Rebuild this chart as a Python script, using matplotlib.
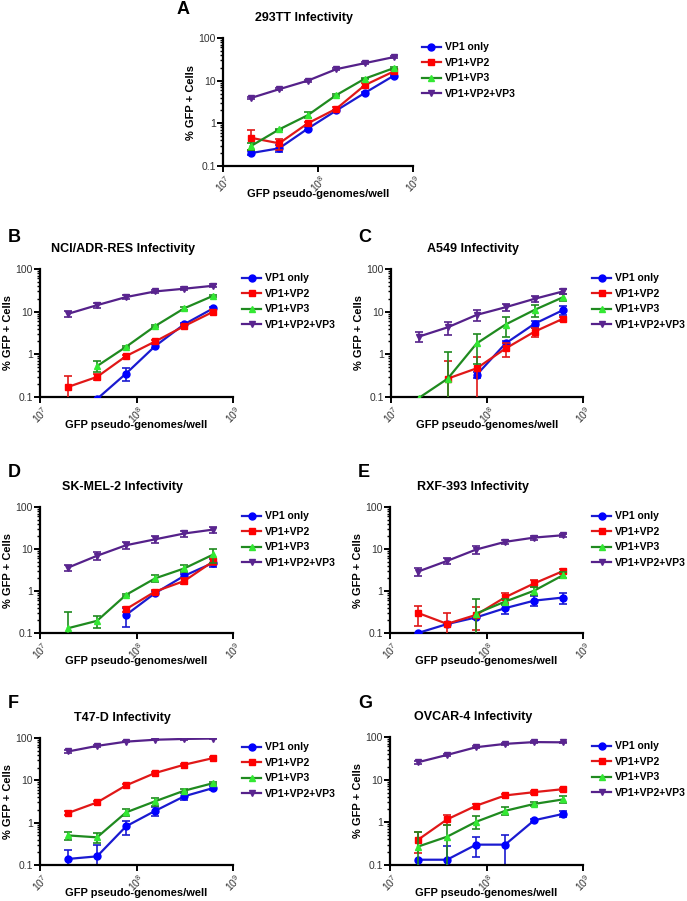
import numpy as np
import matplotlib
matplotlib.use("Agg")
import matplotlib.pyplot as plt
from matplotlib.ticker import LogLocator, NullFormatter, FixedLocator

plt.rcParams['font.family'] = ['Liberation Sans', 'DejaVu Sans']
plt.rcParams['mathtext.fontset'] = 'custom'
plt.rcParams['mathtext.rm'] = 'Liberation Sans'
plt.rcParams['mathtext.it'] = 'Liberation Sans'

# genome doses (x)
doses = np.array([1.95e7, 3.9e7, 7.8e7, 1.56e8, 3.125e8, 6.25e8])

series = ['VP1 only', 'VP1+VP2', 'VP1+VP3', 'VP1+VP2+VP3']
nan = np.nan

# % GFP+ cells, per panel, per series
a_vals = [[0.20, 0.26, 0.75, 2.0, 5.2, 13],
          [0.46, 0.34, 1.0, 2.2, 7.9, 16.4],
          [0.29, 0.72, 1.55, 4.6, 11.2, 19.6],
          [3.9, 6.3, 10, 18.6, 25.8, 35.6]]
a_err = [[0.02, 0.05, 0.05, 0.1, 0.3, 0.8],
         [0.22, 0.1, 0.1, 0.2, 0.8, 1.5],
         [0.05, 0.03, 0.25, 0.3, 0.5, 1.0],
         [0.2, 0.3, 0.5, 1.0, 1.5, 2.0]]

b_vals = [[nan, 0.09, 0.355, 1.56, 5.07, 12],
          [0.172, 0.296, 0.91, 2.0, 4.6, 10],
          [nan, 0.53, 1.5, 4.6, 12, 23.6],
          [8.9, 14.2, 22, 29.8, 34.5, 40.5]]
b_err = [[0, 0, 0.12, 0.15, 0.4, 0.8],
         [0.14, 0.05, 0.08, 0.2, 0.4, 0.8],
         [0, 0.15, 0.1, 0.3, 0.8, 1.5],
         [1.5, 2.0, 2.0, 2.0, 3.0, 3.0]]

c_vals = [[nan, nan, 0.33, 1.8, 5.2, 11],
          [nan, 0.27, 0.47, 1.37, 3.4, 6.9],
          [0.095, 0.27, 1.8, 5.0, 11, 22],
          [2.6, 4.3, 8.4, 12.7, 20, 30]]
c_err = [[0, 0, 0.05, 0.3, 1.0, 2.5],
         [0, 0.43, 0.38, 0.5, 0.8, 0.8],
         [0, 0.85, 1.2, 2.4, 3.5, 4.0],
         [0.7, 1.5, 2.5, 2.5, 3.0, 4.0]]

d_vals = [[nan, nan, 0.27, 0.89, 2.3, 4.7],
          [nan, nan, 0.37, 0.97, 1.73, 5.1],
          [0.13, 0.195, 0.81, 2.0, 3.45, 7.4],
          [3.6, 6.9, 12.3, 17, 23.4, 29]]
d_err = [[0, 0, 0.13, 0.1, 0.3, 1.0],
         [0, 0, 0.05, 0.1, 0.3, 1.0],
         [0.18, 0.06, 0.05, 0.4, 0.6, 2.8],
         [0.6, 1.5, 2.5, 3.0, 4.0, 5.0]]

e_vals = [[0.10, 0.163, 0.235, 0.39, 0.59, 0.70],
          [0.30, 0.165, 0.27, 0.71, 1.52, 3.0],
          [nan, nan, 0.29, 0.56, 1.02, 2.4],
          [2.9, 5.2, 9.7, 14.8, 18.7, 21.3]]
e_err = [[0, 0.01, 0.02, 0.1, 0.15, 0.2],
         [0.15, 0.13, 0.15, 0.2, 0.3, 0.4],
         [0, 0, 0.35, 0.1, 0.2, 0.4],
         [0.6, 0.8, 2.0, 2.0, 2.0, 2.0]]

f_vals = [[0.139, 0.16, 0.82, 1.9, 4.2, 6.6],
          [1.69, 3.0, 7.6, 14.9, 23.4, 33.6],
          [0.50, 0.45, 1.75, 3.2, 5.7, 8.6],
          [48, 65, 82, 91, 95, 97]]
f_err = [[0.09, 0.13, 0.3, 0.5, 0.8, 0.8],
         [0.2, 0.3, 0.5, 1.0, 1.5, 2.0],
         [0.1, 0.12, 0.35, 0.7, 0.5, 0.6],
         [3, 3, 3, 3, 3, 3]]

g_vals = [[0.133, 0.133, 0.30, 0.30, 1.12, 1.58],
          [0.39, 1.17, 2.45, 4.27, 5.1, 6.0],
          [0.27, 0.46, 1.03, 1.86, 2.7, 3.45],
          [25.6, 38, 57.6, 69, 76, 75]]
g_err = [[0, 0.14, 0.15, 0.2, 0.1, 0.25],
         [0.2, 0.3, 0.3, 0.4, 0.4, 0.5],
         [0.33, 0.4, 0.35, 0.4, 0.3, 0.6],
         [2, 2, 3, 3, 3, 3]]

line_colors = ['#1a1ad0', '#e01818', '#1f8a1f', '#55218a']
mark_colors = ['#0000ff', '#ff0000', '#33e833', '#5a2590']
markers = ['o', 's', '^', 'v']

# panel letter, title, values, errors, axes box in pixels (left, top, right, bottom)
panels = [
    ('A', '293TT Infectivity', a_vals, a_err, (223, 38, 413, 166), (177, 10)),
    ('B', 'NCI/ADR-RES Infectivity', b_vals, b_err, (40, 269, 233, 397), (8, 238)),
    ('C', 'A549 Infectivity', c_vals, c_err, (391, 269, 583, 397), (358, 238)),
    ('D', 'SK-MEL-2 Infectivity', d_vals, d_err, (40, 507, 233, 633), (8, 472)),
    ('E', 'RXF-393 Infectivity', e_vals, e_err, (390, 507, 583, 633), (358, 472)),
    ('F', 'T47-D Infectivity', f_vals, f_err, (40, 738, 233, 865), (8, 703)),
    ('G', 'OVCAR-4 Infectivity', g_vals, g_err, (390, 737, 583, 865), (358, 703)),
]

W, H = 687, 901
fig = plt.figure(figsize=(W / 100, H / 100), dpi=100)

for letter, title, vals, errs, box, lpos in panels:
    l, t, r, b = box
    ax = fig.add_axes([l / W, 1 - b / H, (r - l) / W, (b - t) / H])
    for i in range(4):
        y = np.array(vals[i], dtype=float)
        e = np.array(errs[i], dtype=float)
        m = (e > 0) & ~np.isnan(y)
        ax.errorbar(doses[m], y[m], yerr=e[m], fmt='none', ecolor=line_colors[i],
                    elinewidth=1.2, capsize=3, capthick=1.2, zorder=2 + i)
        ax.plot(doses, y, color=line_colors[i], lw=1.6, marker=markers[i],
                markersize=5, markerfacecolor=mark_colors[i],
                markeredgecolor=mark_colors[i], label=series[i], zorder=3 + i)
    ax.set_xscale('log')
    ax.set_yscale('log')
    ax.set_xlim(1e7, 1e9)
    ax.set_ylim(0.1, 100)
    for s in ['top', 'right']:
        ax.spines[s].set_visible(False)
    for s in ['left', 'bottom']:
        ax.spines[s].set_linewidth(1.6)
    ax.xaxis.set_major_locator(FixedLocator([1e7, 1e8, 1e9]))
    ax.xaxis.set_minor_locator(FixedLocator([]))
    ax.xaxis.set_minor_formatter(NullFormatter())
    ax.set_xticklabels([r'$10^{7}$', r'$10^{8}$', r'$10^{9}$'], rotation=45,
                       ha='center', va='top', fontsize=7.5, color='#333333')
    ax.yaxis.set_major_locator(FixedLocator([0.1, 1, 10, 100]))
    ax.set_yticklabels(['0.1', '1', '10', '100'], fontsize=7.5, color='#333333')
    ax.yaxis.set_minor_locator(LogLocator(base=10, subs=np.arange(2, 10)))
    ax.yaxis.set_minor_formatter(NullFormatter())
    ax.tick_params(which='major', length=4, width=1.4, pad=1)
    ax.tick_params(which='minor', length=2.5, width=1.0)
    ax.set_ylabel('% GFP + Cells', fontsize=8, fontweight='bold', labelpad=2)
    ax.set_xlabel('GFP pseudo-genomes/well', fontsize=8, fontweight='bold', va='center')
    ax.xaxis.set_label_coords(0.5, -28 / (b - t))
    ax.legend(loc='upper left', bbox_to_anchor=(1.045, 0.965), frameon=False,
              prop={'weight': 'bold', 'size': 7.5}, borderaxespad=0,
              borderpad=0, handlelength=1.9, handletextpad=0.35, labelspacing=0.52)
    fig.text((l + r) / 2 / W - 0.02, 1 - (t - 20) / H, title, ha='center',
             va='center', fontsize=9, fontweight='bold')
    fig.text(lpos[0] / W, 1 - lpos[1] / H, letter, ha='left', va='center',
             fontsize=13, fontweight='bold')

fig.savefig('out.png', dpi=100)
